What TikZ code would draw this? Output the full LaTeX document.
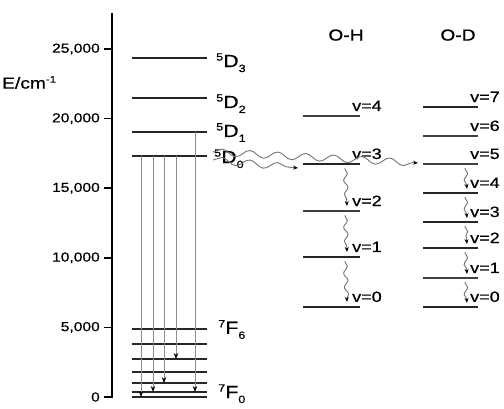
\documentclass[tikz,border=0pt]{standalone}
\usepackage{fontspec}
\setmainfont{Liberation Sans}[FakeBold=0.4]
\newfontfamily\widefont[FakeStretch=1.2,FakeBold=0.6]{Liberation Sans}
\usetikzlibrary{positioning,arrows.meta,decorations.pathmorphing}

% term symbol: superscript, letter, subscript
\newcommand\eulev[3]{\raisebox{6.5pt}{\fontsize{10.5}{10.5}\selectfont #1}\kern0.3pt#2\raisebox{-5pt}{\fontsize{10.5}{10.5}\selectfont #3}}

\begin{document}
\begin{tikzpicture}[x=1pt,y=13.92pt,
    level/.style={draw=black!85,line width=1.8pt},
    thinlevel/.style={draw=black!75,line width=1.2pt},
    emis/.style={draw=black!45,line width=0.7pt,-{Stealth[black,length=6pt,width=4.5pt]}},
    bigwave/.style={draw=black!55,line width=0.9pt,decorate,
      decoration={snake,amplitude=3.5pt,segment length=28pt,post length=4pt},
      -{Stealth[black,length=5pt,width=4pt]}},
    smallwave/.style={bigwave,decoration={snake,amplitude=2pt,segment length=14pt,pre length=1pt,post length=3pt}},
    ticklab/.style={font=\widefont\fontsize{13}{13}\selectfont,anchor=east,inner sep=0pt},
    vlab/.style={font=\widefont\fontsize{15}{15}\selectfont,anchor=base west,inner sep=0pt},
    termlab/.style={font=\widefont\fontsize{17.5}{17.5}\selectfont,anchor=base west,inner sep=0pt},
    title/.style={font=\widefont\fontsize{16}{16}\selectfont,inner sep=0pt}]

    \useasboundingbox (-112pt,-11pt) rectangle (392pt,397pt);

    % Energy axis
    \foreach \e/\t in {0/0,5/{5,000},10/{10,000},15/{15,000},20/{20,000},25/{25,000}} {
      \draw[line width=1.6pt] (-8,\e) coordinate (tick\e) -- (0,\e);
      \node[ticklab] (tl\e) at ([xshift=-4pt]tick\e) {\t};
    }
    \coordinate (origin) at (0,0);
    \coordinate (axtop) at (0,27.6);
    \draw[line width=1.6pt] (tick0) -- (origin) -- (axtop);
    \node[anchor=west,font=\widefont\fontsize{16}{16}\selectfont,inner sep=0pt] (elab) at (-110,22.6)
      {E/cm\raisebox{6pt}{\fontsize{9.5}{9.5}\selectfont -1}};

    % Eu levels
    \foreach \n/\e in {D3/24.35,D2/21.48,D1/19.04,D0/17.31} {
      \coordinate (\n) at (20,\e);
      \draw[level] (\n) -- ++(75,0) coordinate (e\n);
    }
    \foreach \n/\e in {F6/4.9,F5/3.81,F4/2.73,F3/1.8,F2/1.0,F1/0.36,F0/0} {
      \coordinate (\n) at (20,\e);
      \draw[level] (\n) -- ++(75,0) coordinate (e\n);
    }
    \node[termlab] (tD3) at ([xshift=9pt,yshift=-9pt]eD3) {\eulev{5}{D}{3}};
    \node[termlab] (tD2) at ([xshift=9pt,yshift=-10pt]eD2) {\eulev{5}{D}{2}};
    \node[termlab] (tD1) at ([xshift=9pt,yshift=-5pt]eD1) {\eulev{5}{D}{1}};
    \node[termlab] (tD0) at ([xshift=7pt,yshift=-7pt]eD0) {\eulev{5}{D}{0}};
    \node[termlab] (tF6) at ([xshift=11pt,yshift=-5pt]eF6) {\eulev{7}{F}{6}};
    \node[termlab] (tF0) at ([xshift=11pt,yshift=-1pt]eF0) {\eulev{7}{F}{0}};

    % Emission lines
    \foreach \s/\a/\b in {9/D0/F0,21/D0/F1,32/D0/F2,44/D0/F4,63/D1/F1}
      \draw[emis] ([xshift=\s pt]\a) -- ([xshift=\s pt]\b);

    % O-H and O-D vibrational levels
    \node[title] (oh) at (234,26.0) {O-H};
    \node[title] (od) at (346,26.0) {O-D};
    \foreach \n/\e/\s in {4/20.19/thinlevel,3/16.74/level,2/13.36/thinlevel,1/10.06/level,0/6.47/level} {
      \coordinate (OH\n) at (191,\e);
      \draw[\s] (OH\n) -- ++(57,0) coordinate (eOH\n);
      \node[vlab] (lOH\n) at ([xshift=-8pt,yshift=5pt]eOH\n) {v=\n};
    }
    \foreach \n/\e/\s in {7/20.83/level,6/18.75/thinlevel,5/16.74/thinlevel,4/14.66/level,3/12.57/level,2/10.70/level,1/8.55/thinlevel,0/6.47/level} {
      \coordinate (OD\n) at (311,\e);
      \draw[\s] (OD\n) -- ++(55,0) coordinate (eOD\n);
      \node[vlab] (lOD\n) at ([xshift=-8pt,yshift=5pt]eOD\n) {v=\n};
    }

    % Energy transfer and relaxation
    \draw[bigwave] ([xshift=6pt,yshift=-4pt]eD0) -- ([xshift=-5pt,yshift=-4pt]OH3);
    \draw[bigwave] ([xshift=6pt,yshift=4pt]eD0) -- ([xshift=-5pt,yshift=1pt]OD5);
    \foreach \u/\l in {3/2,2/1,1/0}
      \draw[smallwave] ([xshift=42pt,yshift=-4pt]OH\u) -- ([xshift=44pt,yshift=5pt]OH\l);
    \foreach \u/\l in {5/4,4/3,3/2,2/1,1/0}
      \draw[smallwave] ([xshift=42pt,yshift=-4pt]OD\u) -- ([xshift=44pt,yshift=4pt]OD\l);
  \end{tikzpicture}
\end{document}
